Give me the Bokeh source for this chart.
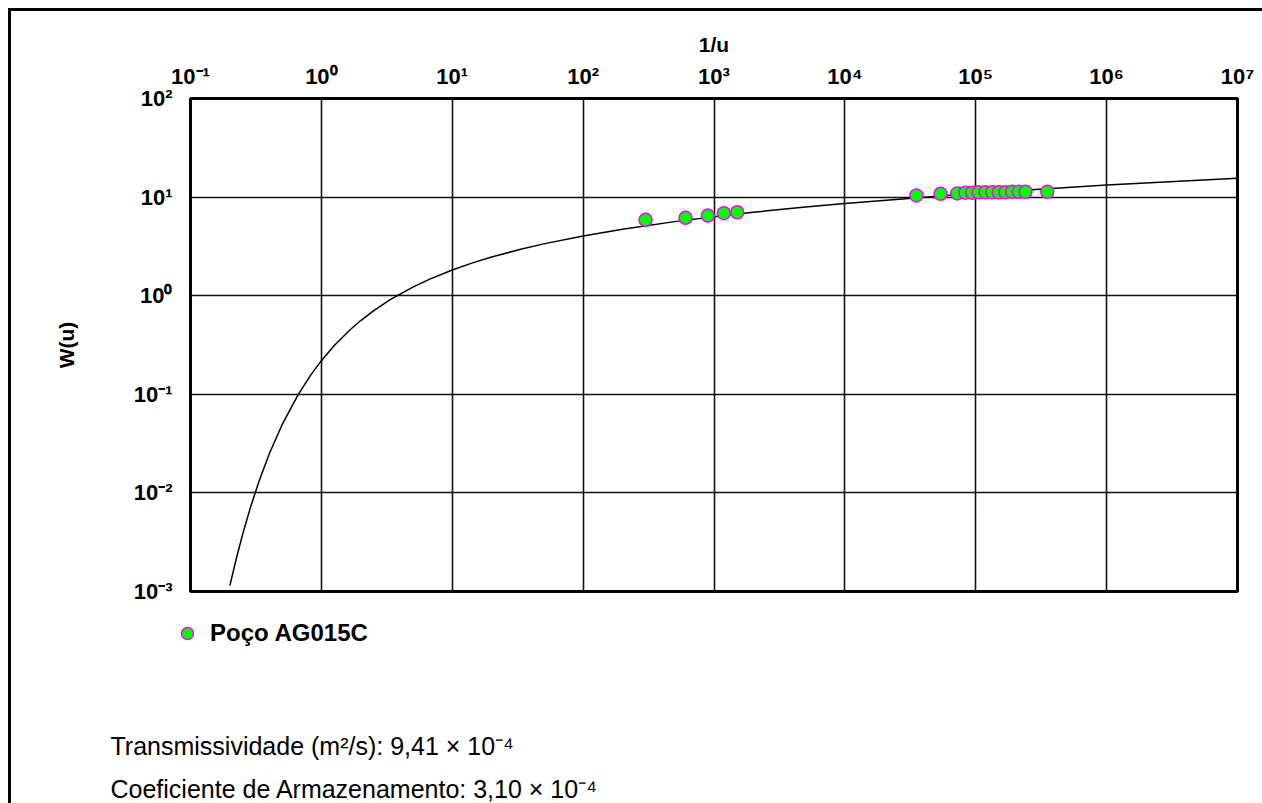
from bokeh.plotting import figure
from bokeh.layouts import column
from bokeh.models import Range1d, FixedTicker, Label, Legend, LegendItem
from bokeh.embed import file_html
from bokeh.resources import INLINE

# ---- axis ticks ----
x_ticks = [0.1, 1, 10, 100, 1000, 10000, 100000, 1000000, 10000000]
x_tick_labels = ["10⁻¹", "10⁰", "10¹", "10²", "10³", "10⁴", "10⁵", "10⁶", "10⁷"]
y_ticks = [0.001, 0.01, 0.1, 1, 10, 100]
y_tick_labels = ["10⁻³", "10⁻²", "10⁻¹", "10⁰", "10¹", "10²"]

# ---- Theis type curve W(u) ----
curve_u = [5.0, 4.5, 4.0, 3.5, 3.0, 2.5, 2.0, 1.5, 1.2, 1.0, 0.8, 0.6, 0.5, 0.4,
           0.3, 0.2, 0.15, 0.1, 0.07, 0.05, 0.03, 0.02, 0.01, 0.005, 0.002,
           0.001, 0.0005, 0.0002, 0.0001, 0.00001, 0.000001, 0.0000001]
curve_w = [0.001148, 0.002073, 0.003779, 0.006970, 0.01305, 0.02491, 0.04890,
           0.1000, 0.1584, 0.2194, 0.3106, 0.4544, 0.5598, 0.7024, 0.9057,
           1.2227, 1.4645, 1.8229, 2.1508, 2.4679, 2.9591, 3.3547, 4.0379,
           4.7261, 5.6394, 6.3315, 7.0242, 7.9402, 8.6332, 10.9357, 13.2383,
           15.5409]
curve_inv_u = [1.0 / u for u in curve_u]

# ---- observed data, well AG015C ----
well_inv_u = [300, 606, 897, 1189, 1504,
              35200, 53800, 72200, 83500, 94000, 105500, 118700, 133600,
              150000, 168700, 189800, 213300, 239900, 351600]
well_w = [5.89, 6.17, 6.50, 6.86, 7.02,
          10.4, 10.8, 10.9, 11.1, 11.1, 11.2, 11.2, 11.2,
          11.2, 11.2, 11.3, 11.3, 11.3, 11.3]

legend_label = "Poço AG015C"
line1 = "Transmissividade (m²/s): 9,41 × 10⁻⁴"
line2 = "Coeficiente de Armazenamento: 3,10 × 10⁻⁴"

FONT = "Liberation Sans"
W = 1251

# ---------------- main chart ----------------
p = figure(width=W, height=605, x_axis_type="log", y_axis_type="log",
           x_axis_location="above",
           x_range=Range1d(0.1, 1e7), y_range=Range1d(1e-3, 1e2),
           output_backend="svg", toolbar_location=None,
           min_border_left=179, min_border_right=25,
           min_border_top=87, min_border_bottom=25)
p.frame_align = False

p.outline_line_color = "black"
p.outline_line_width = 3
p.background_fill_color = "white"
p.border_fill_color = "white"

for ax, ticks, labels in ((p.xaxis[0], x_ticks, x_tick_labels),
                          (p.yaxis[0], y_ticks, y_tick_labels)):
    ax.ticker = FixedTicker(ticks=ticks, minor_ticks=[])
    ax.major_label_overrides = {t: l for t, l in zip(ticks, labels)}
    ax.axis_line_color = None
    ax.major_tick_line_color = None
    ax.minor_tick_line_color = None
    ax.major_label_text_font = FONT
    ax.major_label_text_font_style = "bold"
    ax.major_label_text_font_size = "22px"
    ax.major_label_text_color = "black"
    ax.axis_label_text_font = FONT
    ax.axis_label_text_font_style = "bold"
    ax.axis_label_text_font_size = "21px"
    ax.axis_label_text_color = "black"

p.xaxis.axis_label = "1/u"
p.xaxis.major_label_standoff = 4
p.xaxis.axis_label_standoff = 5
p.yaxis.axis_label = "W(u)"
p.yaxis.major_label_standoff = 12
p.yaxis.axis_label_standoff = 53

p.xgrid.grid_line_color = "#111111"
p.ygrid.grid_line_color = "#111111"
p.xgrid.grid_line_width = 1.6
p.ygrid.grid_line_width = 1.6
p.xgrid.ticker = FixedTicker(ticks=x_ticks)
p.ygrid.ticker = FixedTicker(ticks=y_ticks)

p.line(curve_inv_u, curve_w, line_color="black", line_width=1.5)
p.scatter(well_inv_u, well_w, size=13, marker="circle",
          fill_color="#00ff00", line_color="#ff00ff", line_width=1.5)

# ---------------- legend + parameter text ----------------
H2 = 803 - 11 - 605
q = figure(width=W, height=H2, x_range=Range1d(0, W), y_range=Range1d(0, H2),
           output_backend="svg", toolbar_location=None,
           min_border=0, min_border_left=0, min_border_right=0,
           min_border_top=0, min_border_bottom=0)
q.frame_align = False
q.axis.visible = False
q.grid.visible = False
q.outline_line_color = None
q.background_fill_color = "white"
q.border_fill_color = "white"

nan = float("nan")
key = q.scatter(x=[nan], y=[nan], size=13, marker="circle",
                fill_color="#00ff00", line_color="#ff00ff", line_width=1.5)
legend = Legend(items=[LegendItem(label=legend_label, renderers=[key])],
                location=(161, H2 - 32), padding=0, margin=0, spacing=0,
                glyph_width=30, glyph_height=30, label_height=30,
                label_standoff=8, border_line_color=None,
                background_fill_alpha=0,
                label_text_font=FONT, label_text_font_style="bold",
                label_text_font_size="24px", label_text_color="black")
q.add_layout(legend)

for txt, yy in ((line1, H2 - 129), (line2, H2 - 172)):
    q.add_layout(Label(x=99, y=yy, text=txt, text_font=FONT,
                       text_font_size="25px", text_baseline="middle",
                       text_align="left", text_color="black"))

layout = column(p, q, spacing=0)
layout.styles = {"margin-left": "8px", "margin-top": "8px",
                 "border-left": "3px solid black",
                 "border-top": "3px solid black"}

open("out.html", "w").write(file_html(layout, INLINE))
